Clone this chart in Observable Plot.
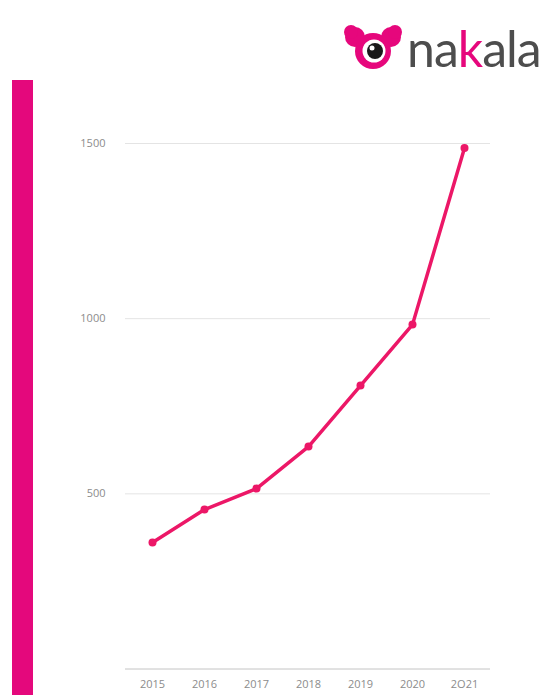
<!DOCTYPE html>
<html>
<head>
<meta charset="utf-8">
<script src="https://cdn.jsdelivr.net/npm/d3@7"></script>
<script src="https://cdn.jsdelivr.net/npm/@observablehq/plot@0.6"></script>
<style>
  html, body { margin: 0; padding: 0; background: #fff; }
  #wrap { position: relative; width: 547px; height: 695px; overflow: hidden; background: #fff; }
  #chart { position: absolute; left: 0; top: 0; }
  #bar { position: absolute; left: 12px; top: 80px; width: 21px; height: 615px; background: #e4087c; }
  #logo { position: absolute; left: 330px; top: 0; }
</style>
</head>
<body>
<div id="wrap">
  <div id="chart"></div>
  <div id="bar"></div>
  <svg id="logo" width="217" height="80" viewBox="0 0 217 80">
    <g fill="#e6077c">
      <circle cx="25" cy="37" r="10"/>
      <circle cx="21" cy="32" r="7"/>
      <circle cx="61" cy="37" r="10"/>
      <circle cx="65" cy="32" r="7"/>
      <circle cx="43" cy="51" r="18"/>
    </g>
    <circle cx="44" cy="51" r="11.5" fill="#fff"/>
    <circle cx="45" cy="51" r="8" fill="#1a1a1a"/>
    <circle cx="42" cy="48" r="2.5" fill="#fff"/>
    <text x="77" y="67" font-family="Lato, 'Open Sans', sans-serif" font-size="50" letter-spacing="-1" fill="#4d4d4d">na<tspan fill="#e6077c">k</tspan>ala</text>
  </svg>
</div>
<script>
const years = ["2015", "2016", "2017", "2018", "2019", "2020", "2021"];
const values = [361, 455, 515, 635, 809, 983, 1487];
const xTickLabels = ["2015", "2016", "2017", "2018", "2019", "2020", "2O21"];
const yTicks = [500, 1000, 1500];

const data = years.map((year, i) => ({year, value: values[i]}));

const chart = Plot.plot({
  width: 547,
  height: 695,
  marginTop: 143,
  marginBottom: 26.5,
  marginLeft: 125,
  marginRight: 57,
  x: {type: "point", domain: years, padding: 0.5},
  y: {domain: [0, 1500]},
  style: {fontFamily: "'Open Sans', sans-serif", fontSize: "11px", color: "#8c8c8c", background: "transparent"},
  marks: [
    Plot.ruleY(yTicks, {stroke: "#e4e4e4", strokeWidth: 1}),
    Plot.ruleY([0], {stroke: "#c4c4c4", strokeWidth: 1}),
    Plot.axisY({ticks: yTicks, tickSize: 0, tickPadding: 20, label: null, fill: "#8c8c8c", tickFormat: d => String(d)}),
    Plot.axisX({tickSize: 0, tickPadding: 11, label: null, fill: "#8c8c8c", tickFormat: d => xTickLabels[years.indexOf(d)]}),
    Plot.line(data, {x: "year", y: "value", stroke: "#ec1767", strokeWidth: 3.5, strokeLinejoin: "round"}),
    Plot.dot(data, {x: "year", y: "value", r: 4, fill: "#ec1767", stroke: "none"})
  ]
});
document.getElementById("chart").appendChild(chart);
</script>
</body>
</html>
